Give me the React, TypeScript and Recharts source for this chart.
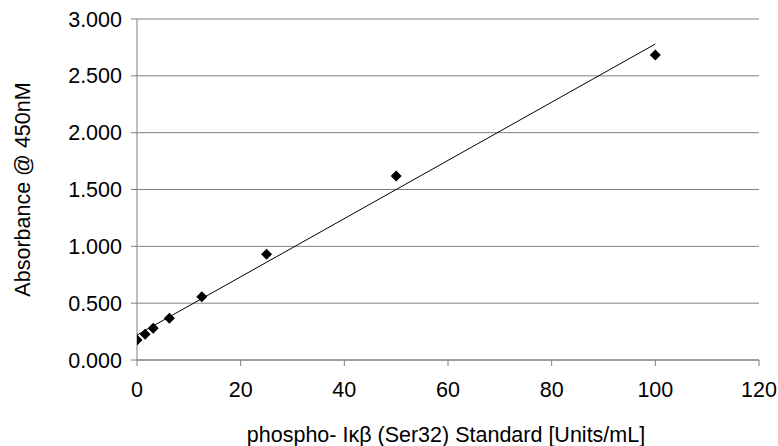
import React from 'react';
import { ScatterChart, Scatter, XAxis, YAxis, CartesianGrid, Label } from 'recharts';

const concentrations = [0, 1.5625, 3.125, 6.25, 12.5, 25, 50, 100];
const absorbance = [0.176, 0.226, 0.279, 0.367, 0.557, 0.93, 1.619, 2.683];
const trendX = [0, 100];
const trendY = [0.22, 2.78];
const xTicks = [0, 20, 40, 60, 80, 100, 120];
const yTicks = [0, 0.5, 1, 1.5, 2, 2.5, 3];

const points = concentrations.map((x, i) => ({ x, y: absorbance[i] }));
const trend = trendX.map((x, i) => ({ x, y: trendY[i] }));

const FONT = '"Liberation Sans", Arial, sans-serif';
const FS = 21.5;

const Diamond = (props: any) => {
  const { cx, cy } = props;
  return (
    <path
      d={`M${cx},${cy - 5.5}L${cx + 5.5},${cy}L${cx},${cy + 5.5}L${cx - 5.5},${cy}Z`}
      fill="#000"
    />
  );
};

const Empty = () => <g />;

export default function App() {
  return (
    <div
      style={{
        fontFamily: FONT,
        position: 'fixed',
        left: 0,
        top: 0,
        width: 778,
        height: 446,
        background: '#fff',
      }}
    >
      <ScatterChart
        width={778}
        height={446}
        margin={{ top: 19, right: 19, bottom: 0, left: 0 }}
      >
        <CartesianGrid vertical={false} stroke="#808080" strokeWidth={1} />
        <XAxis
          type="number"
          dataKey="x"
          domain={[0, 120]}
          ticks={xTicks}
          height={86}
          stroke="#808080"
          tickSize={6}
          tickMargin={16}
          tick={{ fill: '#000', fontSize: FS, fontFamily: FONT }}
          allowDataOverflow
        >
          <Label
            value="phospho- Iκβ (Ser32) Standard [Units/mL]"
            position="insideBottom"
            offset={4}
            dx={-2}
            style={{ fill: '#000', fontSize: FS, fontFamily: FONT }}
          />
        </XAxis>
        <YAxis
          type="number"
          dataKey="y"
          domain={[0, 3]}
          ticks={yTicks}
          width={137}
          stroke="#808080"
          tickSize={6}
          tickMargin={9}
          tickFormatter={(v: number) => v.toFixed(3)}
          tick={{ fill: '#000', fontSize: FS, fontFamily: FONT }}
          allowDataOverflow
        >
          <Label
            value="Absorbance @ 450nM"
            angle={-90}
            position="insideLeft"
            offset={22}
            style={{ fill: '#000', fontSize: FS, fontFamily: FONT, textAnchor: 'middle' }}
          />
        </YAxis>
        <Scatter
          data={trend}
          line={{ stroke: '#000', strokeWidth: 1 }}
          shape={<Empty />}
          isAnimationActive={false}
          legendType="none"
        />
        <Scatter
          data={points}
          shape={<Diamond />}
          isAnimationActive={false}
          legendType="none"
        />
      </ScatterChart>
    </div>
  );
}
